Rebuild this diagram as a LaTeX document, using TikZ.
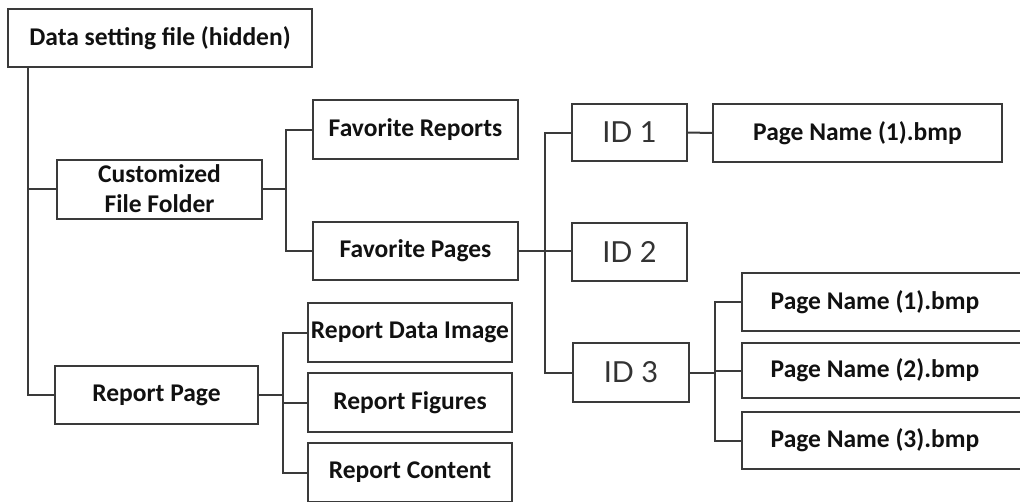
\documentclass[tikz,border=0pt]{standalone}
\usepackage{fontspec}
\setmainfont{Carlito}
\newfontfamily\idfont{Lato}
\definecolor{ln}{HTML}{3A3A3A}
\definecolor{tx}{HTML}{111111}
\tikzset{
  box/.style={draw=ln, line width=2pt, rectangle, inner sep=0pt, align=center,
    text=tx, font=\bfseries\fontsize{25.5}{30}\selectfont},
  idbox/.style={box, font=\idfont\fontsize{29}{30}\selectfont, text=black!80},
  link/.style={draw=ln, line width=2pt},
}
\begin{document}
\begin{tikzpicture}[x=1pt,y=-1pt]
\useasboundingbox (0,0) rectangle (1020,501);
\clip (0,0) rectangle (1020,501);
% nodes
\node[box, minimum width=304pt, minimum height=58pt] (data) at (160,38) {Data setting file (hidden)};
\node[box, minimum width=205pt, minimum height=59pt] (cust) at (159.5,189) {Customized\\File Folder};
\node[box, minimum width=203pt, minimum height=58pt] (rpage) at (156.5,395) {Report Page};
\node[box, minimum width=205pt, minimum height=59pt] (favrep) at (415.5,129.5) {Favorite Reports};
\node[box, minimum width=205pt, minimum height=58pt] (favpag) at (415.5,251) {Favorite Pages};
\node[box, minimum width=204pt, minimum height=59pt] (rdata) at (410,332.5) {Report Data Image};
\node[box, minimum width=204pt, minimum height=59pt] (rfig) at (410,402.5) {Report Figures};
\node[box, minimum width=204pt, minimum height=59pt] (rcont) at (410,472.5) {Report Content};
\node[idbox, minimum width=115pt, minimum height=57pt] (id1) at (629.5,132.5) {ID 1};
\node[idbox, minimum width=115pt, minimum height=58pt] (id2) at (629.5,252) {ID 2};
\node[idbox, minimum width=116pt, minimum height=59pt] (id3) at (631,372.5) {ID 3};
\node[box, minimum width=289pt, minimum height=58pt] (pn0) at (857.5,133) {Page Name (1).bmp};
\node[box, minimum width=284pt, minimum height=58pt] (pn1) at (884,302) {Page Name (1).bmp\hspace*{18pt}};
\node[box, minimum width=284pt, minimum height=55pt] (pn2) at (884,370.5) {Page Name (2).bmp\hspace*{18pt}};
\node[box, minimum width=284pt, minimum height=57pt] (pn3) at (884,440.5) {Page Name (3).bmp\hspace*{18pt}};
% junction coordinates
\coordinate (t0) at (28,67);
\coordinate (t1) at (286,189);
\coordinate (t2) at (545,251);
\coordinate (t3) at (283,395);
\coordinate (t4) at (715,370);
% connectors
\draw[link] (t0) |- (rpage.west);
\draw[link] (cust.west) -- (cust.west -| t0);
\draw[link] (cust.east) -- (t1);
\draw[link] (favrep.west) -| (t1) |- (favpag.west);
\draw[link] (favpag.east) -- (favpag.east -| id2.west);
\draw[link] (id1.west) -| (t2) |- (id3.west);
\draw[link] (id1.east) -- (pn0.west);
\draw[link] (rpage.east) -- (t3);
\draw[link] (rdata.west) -| (t3) |- (rcont.west);
\draw[link] (t3) |- (rfig.west);
\draw[link] (id3.east) -- (id3.east -| t4);
\draw[link] (pn1.west) -| (t4) |- (pn3.west);
\draw[link] (pn2.west) -- (pn2.west -| t4);
\end{tikzpicture}
\end{document}
